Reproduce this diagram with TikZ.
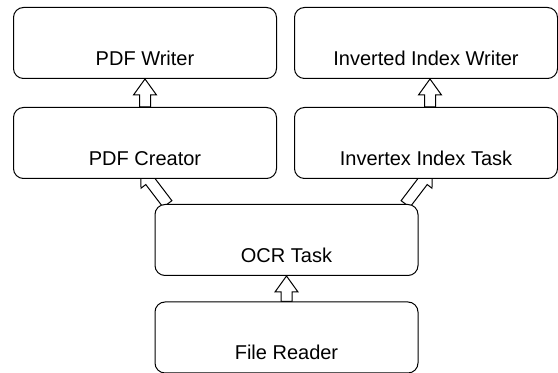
\documentclass[tikz,border=0pt]{standalone}
\usepackage{fontspec}
\setmainfont{Liberation Sans}
\usetikzlibrary{calc,backgrounds}

\tikzset{
  stage/.style={draw, fill=white, rounded corners=5pt, line width=0.5pt,
    minimum width=131.5pt, inner sep=0pt, text height=29pt, text depth=6.5pt,
    anchor=north},
  hollow/.style={draw, fill=white, line width=0.5pt, to path={
    let \p1=($(\tikztotarget)!8pt!(\tikztostart)$) in
    ($(\tikztostart)!2.75pt!90:(\tikztotarget)$) -- ($(\p1)!2.75pt!-90:(\tikztostart)$)
    -- ($(\p1)!5.75pt!-90:(\tikztostart)$) -- (\tikztotarget)
    -- ($(\p1)!5.75pt!90:(\tikztostart)$) -- ($(\p1)!2.75pt!90:(\tikztostart)$)
    -- ($(\tikztostart)!2.75pt!-90:(\tikztotarget)$) -- cycle}}
}

\begin{document}
\begin{tikzpicture}[x=0.5pt, y=-0.5pt, every node/.style={font=\fontsize{10}{12}\selectfont}]
    \useasboundingbox (0,0) rectangle (558,373);

    \node[stage] (pdfwriter) at (145,7) {PDF Writer};
    \node[stage] (invwriter) at (426,7) {Inverted Index Writer};
    \node[stage] (pdfcreator) at (145,107) {PDF Creator};
    \node[stage] (invtask) at (426,107) {Invertex Index Task};
    \node[stage] (ocr) at (286.5,204) {OCR Task};
    \node[stage] (reader) at (286.5,301.5) {File Reader};

    % arrow ends off the box centres
    \coordinate (lfoot) at ($(ocr.north west)+(13,0)$);
    \coordinate (lhead) at ($(pdfcreator.south)+(-4.5,-10.5)$);
    \coordinate (rfoot) at ($(ocr.north east)+(-13,0)$);
    \coordinate (rhead) at ($(invtask.south)+(6.5,-10.5)$);
    \coordinate (rbase) at ($(invtask.north)+(4,0)$);
    \coordinate (rtop) at ($(invwriter.south)+(4,0)$);

    \begin{scope}[on background layer]
        \draw[hollow] (pdfcreator.north) to (pdfwriter.south);
        \draw[hollow] (rbase) to (rtop);
        \draw[hollow] (lfoot) to (lhead);
        \draw[hollow] (rfoot) to (rhead);
        \draw[hollow] (reader.north) to (ocr.south);
    \end{scope}
\end{tikzpicture}
\end{document}
